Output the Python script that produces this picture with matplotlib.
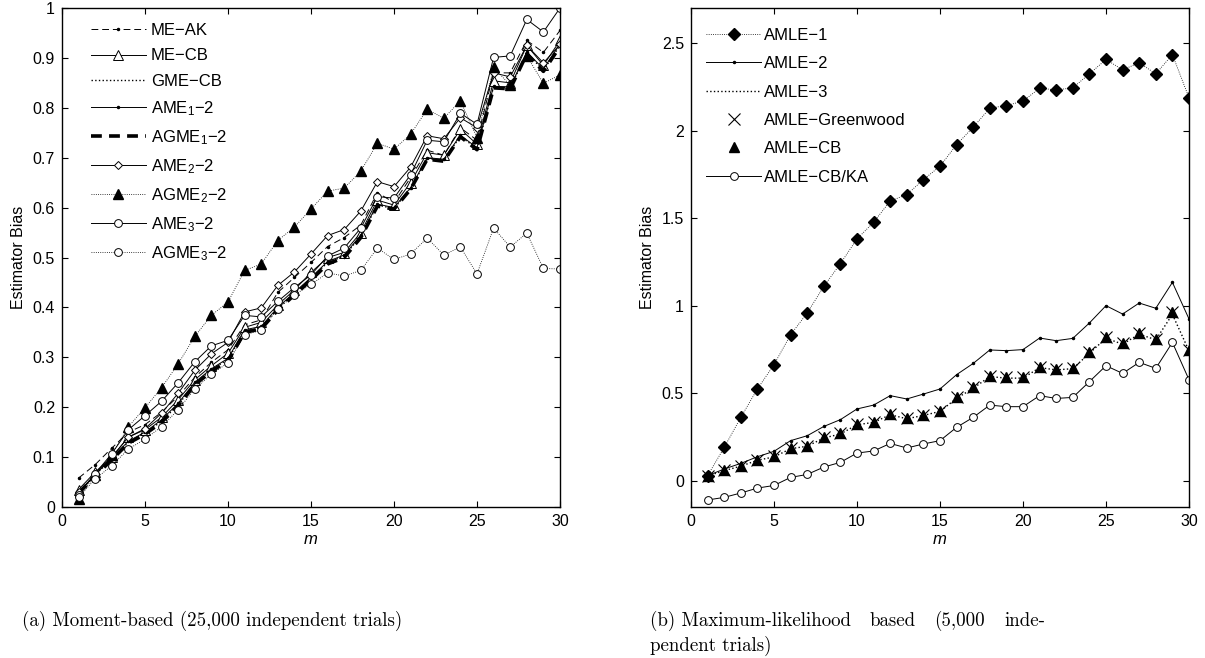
import matplotlib
matplotlib.use("Agg")
import matplotlib.pyplot as plt

plt.rcParams['font.family'] = ['Liberation Sans', 'DejaVu Sans']
plt.rcParams['mathtext.fontset'] = 'custom'
plt.rcParams['mathtext.rm'] = 'Liberation Sans'
plt.rcParams['mathtext.it'] = 'Liberation Sans:italic'
plt.rcParams['mathtext.default'] = 'regular'

m = list(range(1, 31))

# ---- moment-based estimators ----
me_ak = [0.058, 0.085, 0.118, 0.150, 0.165, 0.190, 0.222, 0.260, 0.290, 0.315,
         0.365, 0.375, 0.430, 0.460, 0.490, 0.522, 0.540, 0.565, 0.630, 0.610,
         0.660, 0.715, 0.705, 0.760, 0.735, 0.870, 0.870, 0.935, 0.911, 0.955]
me_cb = [0.035, 0.070, 0.100, 0.140, 0.155, 0.180, 0.215, 0.255, 0.283, 0.308,
         0.360, 0.370, 0.405, 0.435, 0.470, 0.500, 0.510, 0.550, 0.615, 0.605,
         0.650, 0.710, 0.705, 0.757, 0.727, 0.854, 0.850, 0.925, 0.885, 0.935]
gme_cb = [0.030, 0.064, 0.097, 0.130, 0.148, 0.172, 0.205, 0.247, 0.275, 0.296,
          0.352, 0.360, 0.398, 0.428, 0.458, 0.490, 0.503, 0.543, 0.605, 0.598,
          0.638, 0.698, 0.695, 0.743, 0.718, 0.842, 0.840, 0.910, 0.875, 0.925]
ame1 = [0.030, 0.065, 0.098, 0.132, 0.150, 0.175, 0.208, 0.250, 0.277, 0.298,
        0.355, 0.362, 0.400, 0.430, 0.460, 0.492, 0.505, 0.545, 0.607, 0.600,
        0.640, 0.700, 0.697, 0.745, 0.720, 0.843, 0.842, 0.912, 0.878, 0.928]
agme1 = [0.028, 0.062, 0.095, 0.128, 0.146, 0.170, 0.203, 0.245, 0.272, 0.293,
         0.350, 0.357, 0.395, 0.425, 0.455, 0.487, 0.500, 0.540, 0.603, 0.597,
         0.637, 0.697, 0.693, 0.742, 0.716, 0.840, 0.838, 0.908, 0.873, 0.923]
ame2 = [0.030, 0.065, 0.100, 0.140, 0.157, 0.188, 0.228, 0.274, 0.307, 0.330,
        0.391, 0.399, 0.444, 0.471, 0.507, 0.544, 0.556, 0.593, 0.652, 0.642,
        0.681, 0.744, 0.738, 0.780, 0.760, 0.870, 0.862, 0.925, 0.890, 0.927]
agme2 = [0.017, 0.065, 0.105, 0.161, 0.199, 0.239, 0.287, 0.342, 0.384, 0.411,
         0.474, 0.487, 0.534, 0.561, 0.597, 0.633, 0.639, 0.673, 0.729, 0.717,
         0.747, 0.797, 0.779, 0.814, 0.740, 0.881, 0.845, 0.904, 0.849, 0.866]
ame3 = [0.025, 0.067, 0.107, 0.155, 0.183, 0.212, 0.249, 0.291, 0.323, 0.334,
        0.384, 0.381, 0.412, 0.440, 0.465, 0.503, 0.519, 0.559, 0.622, 0.619,
        0.666, 0.735, 0.732, 0.789, 0.767, 0.901, 0.904, 0.977, 0.952, 1.000]
agme3 = [0.020, 0.056, 0.083, 0.116, 0.136, 0.161, 0.195, 0.237, 0.266, 0.289,
         0.345, 0.354, 0.397, 0.425, 0.446, 0.469, 0.463, 0.474, 0.519, 0.496,
         0.507, 0.539, 0.505, 0.521, 0.467, 0.559, 0.521, 0.549, 0.478, 0.477]

# ---- maximum-likelihood estimators ----
amle1 = [0.029, 0.190, 0.362, 0.524, 0.663, 0.834, 0.958, 1.110, 1.240, 1.381,
         1.476, 1.598, 1.634, 1.720, 1.796, 1.920, 2.019, 2.128, 2.143, 2.168,
         2.242, 2.232, 2.244, 2.324, 2.406, 2.347, 2.387, 2.324, 2.434, 2.187]
amle2 = [0.029, 0.067, 0.099, 0.137, 0.168, 0.229, 0.257, 0.310, 0.349, 0.410,
         0.432, 0.486, 0.467, 0.495, 0.524, 0.606, 0.670, 0.747, 0.743, 0.749,
         0.815, 0.800, 0.813, 0.901, 1.000, 0.952, 1.015, 0.985, 1.133, 0.924]
amle3 = [0.027, 0.058, 0.083, 0.117, 0.136, 0.183, 0.197, 0.244, 0.267, 0.320,
         0.333, 0.377, 0.354, 0.373, 0.396, 0.471, 0.528, 0.595, 0.586, 0.586,
         0.646, 0.633, 0.640, 0.728, 0.814, 0.780, 0.837, 0.805, 0.950, 0.742]
amle_gw = [0.029, 0.061, 0.086, 0.120, 0.139, 0.187, 0.200, 0.248, 0.270, 0.324,
           0.337, 0.381, 0.358, 0.377, 0.400, 0.476, 0.533, 0.600, 0.590, 0.590,
           0.651, 0.638, 0.644, 0.733, 0.819, 0.785, 0.842, 0.810, 0.962, 0.747]
amle_cb = [0.029, 0.061, 0.086, 0.120, 0.139, 0.187, 0.200, 0.248, 0.270, 0.324,
           0.337, 0.381, 0.358, 0.377, 0.400, 0.476, 0.533, 0.600, 0.590, 0.590,
           0.651, 0.638, 0.644, 0.733, 0.819, 0.785, 0.842, 0.810, 0.962, 0.747]
amle_cbka = [-0.110, -0.095, -0.070, -0.042, -0.027, 0.019, 0.036, 0.078, 0.105, 0.158,
             0.170, 0.213, 0.187, 0.210, 0.229, 0.305, 0.362, 0.432, 0.423, 0.423,
             0.486, 0.470, 0.476, 0.566, 0.657, 0.613, 0.676, 0.642, 0.790, 0.577]

caption_a = '(a) Moment-based (25,000 independent trials)'
caption_b1 = ['(b) Maximum-likelihood', 'based', '(5,000', 'inde-']
caption_b2 = 'pendent trials)'

W, H = 1205, 658
fig = plt.figure(figsize=(W / 100, H / 100), dpi=100)
axL = fig.add_axes([62 / W, 1 - 507 / H, 498 / W, 499 / H])
axR = fig.add_axes([691 / W, 1 - 507 / H, 498 / W, 499 / H])

lw = 0.7
mk = dict(markerfacecolor='white', markeredgecolor='black', markeredgewidth=0.7)

axL.plot(m, me_ak, ls=(0, (7, 4)), color='black', lw=lw, marker='.', ms=3, label='ME\u2212AK')
axL.plot(m, me_cb, ls='-', color='black', lw=lw, marker='^', ms=7, label='ME\u2212CB', **mk)
axL.plot(m, gme_cb, ls=':', color='black', lw=1.0, label='GME\u2212CB')
axL.plot(m, ame1, ls='-', color='black', lw=lw, marker='.', ms=3, label='AME$_1$\u22122')
axL.plot(m, agme1, ls=(0, (3, 2)), color='black', lw=2.6, label='AGME$_1$\u22122')
axL.plot(m, ame2, ls='-', color='black', lw=lw, marker='D', ms=4.5, label='AME$_2$\u22122', **mk)
axL.plot(m, agme2, ls=':', color='black', lw=0.6, marker='^', ms=7.5,
         markerfacecolor='black', markeredgecolor='black', label='AGME$_2$\u22122')
axL.plot(m, ame3, ls='-', color='black', lw=lw, marker='o', ms=5.6, label='AME$_3$\u22122', **mk)
axL.plot(m, agme3, ls=':', color='black', lw=0.6, marker='o', ms=5.6, label='AGME$_3$\u22122', **mk)

axR.plot(m, amle1, ls=':', color='black', lw=0.6, marker='D', ms=6.5,
         markerfacecolor='black', markeredgecolor='black', label='AMLE\u22121')
axR.plot(m, amle2, ls='-', color='black', lw=lw, marker='.', ms=3, label='AMLE\u22122')
axR.plot(m, amle3, ls=':', color='black', lw=1.0, label='AMLE\u22123')
axR.plot(m, amle_gw, ls='none', color='black', marker='x', ms=8, mew=0.8, label='AMLE\u2212Greenwood')
axR.plot(m, amle_cb, ls='none', color='black', marker='^', ms=7.5,
         markerfacecolor='black', markeredgecolor='black', label='AMLE\u2212CB')
axR.plot(m, amle_cbka, ls='-', color='black', lw=lw, marker='o', ms=5.6, label='AMLE\u2212CB/KA', **mk)

for ax in (axL, axR):
    ax.set_xlim(0, 30)
    ax.set_xticks(range(0, 31, 5))
    ax.tick_params(direction='in', top=True, right=True, length=4.5, width=0.8,
                   labelsize=11.5, pad=5)
    for s in ax.spines.values():
        s.set_linewidth(1.0)
    ax.set_xlabel('$\\it{m}$', fontsize=12, labelpad=2)
    ax.set_ylabel('Estimator Bias', fontsize=11.5, labelpad=5)

axL.set_ylim(0, 1)
axL.set_yticks([i / 10 for i in range(11)])
axL.set_yticklabels(['0'] + ['0.%d' % i for i in range(1, 10)] + ['1'])

axR.set_ylim(-0.15, 2.7)
axR.set_yticks([0, 0.5, 1, 1.5, 2, 2.5])
axR.set_yticklabels(['0', '0.5', '1', '1.5', '2', '2.5'])

axL.legend(loc='upper left', bbox_to_anchor=(0.028, 1.0), frameon=False, fontsize=12,
           handlelength=3.3, handletextpad=0.3, labelspacing=0.62, borderaxespad=0.5,
           numpoints=1)
axR.legend(loc='upper left', bbox_to_anchor=(0.0, 0.99), frameon=False, fontsize=12,
           handlelength=3.3, handletextpad=0.2, labelspacing=0.8, borderaxespad=0.5,
           numpoints=1)

cap = dict(family='cmr10', fontsize=13.6, va='baseline', ha='left')
fig.text(22 / W, 1 - 626 / H, caption_a, **cap)

# first line of caption (b) is justified between its left and right edges
x0, x1 = 650, 1045
fig.canvas.draw()
renderer = fig.canvas.get_renderer()
words = [fig.text(0, 1 - 626 / H, w, **cap) for w in caption_b1]
widths = [t.get_window_extent(renderer).width for t in words]
gap = (x1 - x0 - sum(widths)) / (len(words) - 1)
x = x0
for t, w in zip(words, widths):
    t.set_x(x / W)
    x += w + gap
fig.text(x0 / W, 1 - 651 / H, caption_b2, **cap)

fig.savefig('out.png', dpi=100)
